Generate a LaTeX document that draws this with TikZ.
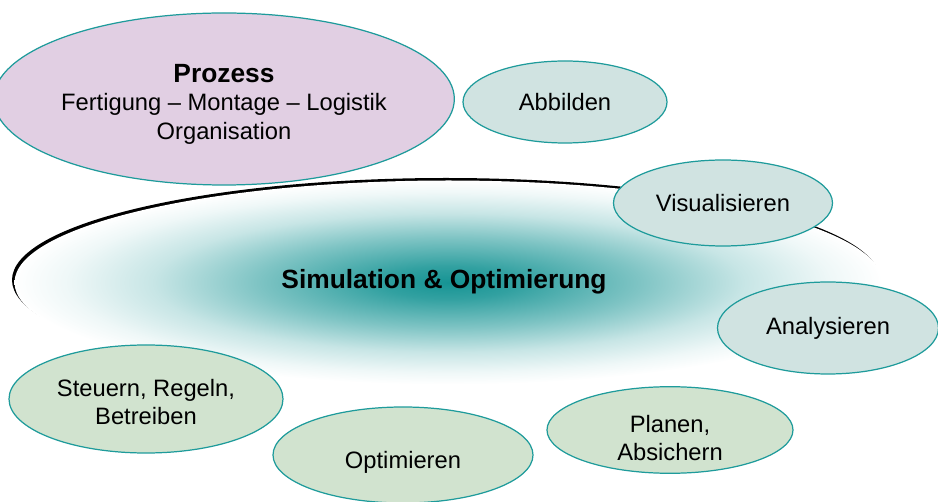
\documentclass[tikz,border=0pt]{standalone}
\usepackage{fontspec}
\setmainfont{Liberation Sans}
\usetikzlibrary{shapes.geometric}
\definecolor{rim}{RGB}{30,155,155}
\definecolor{procfill}{RGB}{225,207,227}
\definecolor{viewfill}{RGB}{208,227,225}
\definecolor{actfill}{RGB}{209,227,207}
\definecolor{simcore}{RGB}{22,148,148}
\colorlet{simA}{simcore!88!white}
\colorlet{simB}{simcore!55!white}
\colorlet{simC}{simcore!24!white}
\colorlet{simD}{simcore!7!white}
\pgfdeclareradialshading{simglow}{\pgfpoint{0bp}{0bp}}{color(0bp)=(simcore); color(4bp)=(simA); color(11bp)=(simB); color(17bp)=(simC); color(22bp)=(simD); color(25bp)=(white); color(50bp)=(white)}
\tikzset{bub/.style={ellipse,draw=rim,line width=0.7pt,inner sep=0pt,align=center,font=\fontsize{13.5}{16}\selectfont},
 pr/.style={bub,fill=procfill},
 vw/.style={bub,fill=viewfill},
 ac/.style={bub,fill=actfill}}
\newcommand{\sinkto}[1]{\rule{0pt}{#1}}

\begin{document}
\begin{tikzpicture}[x=0.2mm,y=0.2mm]
\useasboundingbox (0,0) rectangle (938,-502);
% simulation field: dark rim, shaded body on top
\fill[black] (446,-280) ellipse [x radius=434,y radius=102];
\shade[shading=simglow] (448.5,-282.5) ellipse [x radius=434,y radius=102];
\node[font=\bfseries\fontsize{15}{17}\selectfont](sim) at (444,-282){Simulation \& Optimierung};
\node[pr,minimum width=86.4mm,minimum height=34.4mm](proz) at (224,-99){\sinkto{16.4pt}{\bfseries\fontsize{15}{17}\selectfont Prozess}\\Fertigung – Montage – Logistik\\Organisation};
\node[vw,minimum width=40.8mm,minimum height=16.4mm](abb) at (565,-102){Abbilden};
\node[vw,minimum width=43.8mm,minimum height=17.2mm](vis) at (723,-203){Visualisieren};
\node[vw,minimum width=44.2mm,minimum height=18.4mm](ana) at (828,-328){Analysieren};
\node[ac,minimum width=54.8mm,minimum height=21.6mm](steu) at (146,-399){\sinkto{13.1pt}Steuern, Regeln,\\Betreiben};
\node[ac,minimum width=52mm,minimum height=19.2mm](opt) at (403,-455){\sinkto{18pt}Optimieren};
\node[ac,minimum width=49.2mm,minimum height=17.2mm](plan) at (670,-430){\sinkto{18.7pt}Planen,\\Absichern};
\end{tikzpicture}
\end{document}
